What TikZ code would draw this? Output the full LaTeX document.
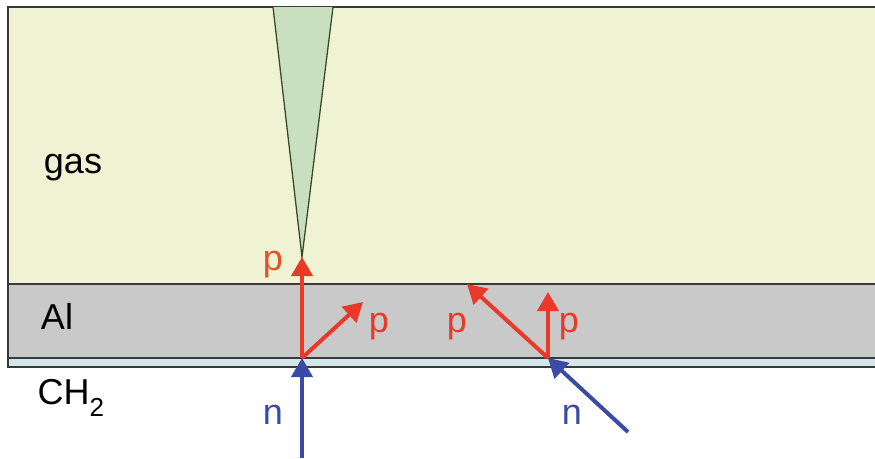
\documentclass[tikz,border=0pt]{standalone}
\usepackage{fontspec}
\setmainfont{Liberation Sans}
\usetikzlibrary{arrows.meta, positioning}

\definecolor{gasFill}{HTML}{EFF3D4}
\definecolor{alFill}{HTML}{C9C9C9}
\definecolor{chFill}{HTML}{D3E7EA}
\definecolor{coneFill}{HTML}{C8DFC0}
\definecolor{coneLine}{HTML}{3C4A2A}
\definecolor{edgeGray}{HTML}{3A3A3A}
\definecolor{pRed}{HTML}{E8392B}
\definecolor{pOrange}{HTML}{E1522C}
\definecolor{nBlue}{HTML}{3B4BA3}

\begin{document}
\begin{tikzpicture}[
    x=1pt, y=-1pt,
    >={Triangle[length=19pt, width=21pt]},
    layer/.style={draw=edgeGray, line width=1.5pt},
    proton/.style={->, pRed, line width=4pt},
    neutron/.style={->, nBlue, line width=4pt},
    tag/.style={anchor=base, font=\fontsize{36}{40}\selectfont},
    ptag/.style={tag, text=pRed},
    ntag/.style={tag, text=nBlue}
]
\useasboundingbox (0,0) rectangle (875,458);
% layers
\fill[gasFill] (8,7) rectangle (876,284);
\fill[alFill] (8,284) rectangle (876,358);
\fill[chFill] (8,358) rectangle (876,367);
\draw[layer] (876,7) -- (8,7) -- (8,367) -- (876,367);
\draw[layer] (8,284) -- (876,284);
\draw[layer] (8,358) -- (876,358);
% cone
\draw[coneLine, fill=coneFill, line width=1.3pt] (273,7) -- (302,257) -- (333,7);
% hit points
\coordinate (hitA) at (302,358);
\coordinate (hitB) at (548,358);
\coordinate (srcA) at (302,458);
\coordinate (srcB) at (628,432);
\coordinate (upA) at (302,257);
\coordinate (diagA) at (363,302);
\coordinate (diagB) at (467,284);
\coordinate (upB) at (548,292);
% arrows
\draw[neutron] (srcA) -- (hitA);
\draw[neutron] (srcB) -- (hitB);
\draw[proton] (hitA) -- (upA);
\draw[proton] (hitA) -- (diagA);
\draw[proton] (hitB) -- (diagB);
\draw[proton] (hitB) -- (upB);
% labels
\node[tag] (gasLbl) at (73,173) {gas};
\node[tag] (alLbl) at (57,329) {Al};
\node[tag, anchor=base west] (chLbl) at (34,404) {CH\raisebox{-12pt}{\fontsize{26}{28}\selectfont 2}};
\node[ptag, text=pOrange] (pTop) at (273,270) {p};
\node[ptag] (pA) at (379,332) {p};
\node[ptag] (pB) at (457,332) {p};
\node[ptag] (pC) at (569,332) {p};
\node[ntag] (nA) at (273,424) {n};
\node[ntag] (nB) at (572,424) {n};
\end{tikzpicture}
\end{document}
